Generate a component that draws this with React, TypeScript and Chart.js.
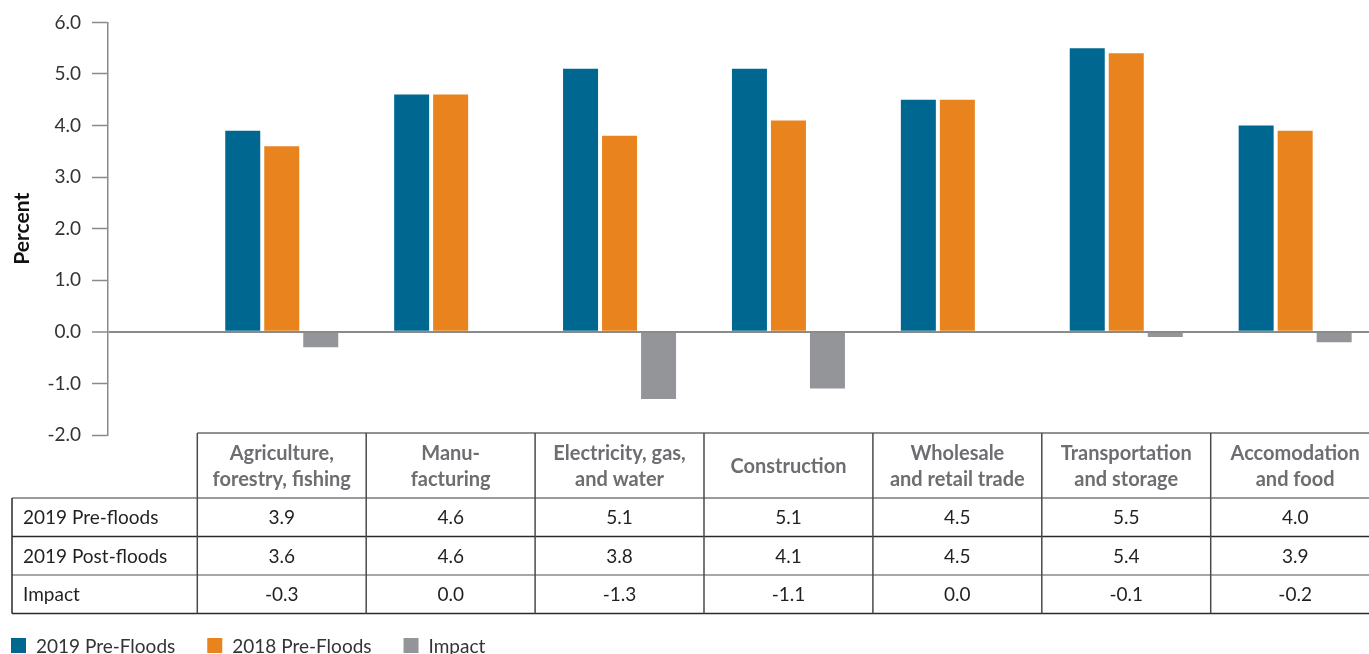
import { useEffect, useRef } from 'react';
import { Chart, registerables } from 'chart.js';

Chart.register(...registerables);

// Sectors (header lines of the data table)
const SECTORS: string[][] = [
  ['Agriculture,', 'forestry, fishing'],
  ['Manu-', 'facturing'],
  ['Electricity, gas,', 'and water'],
  ['Construction'],
  ['Wholesale', 'and retail trade'],
  ['Transportation', 'and storage'],
  ['Accomodation', 'and food'],
];

// Growth rates, percent
const PRE_FLOODS_2019 = [3.9, 4.6, 5.1, 5.1, 4.5, 5.5, 4.0];
const POST_FLOODS_2019 = [3.6, 4.6, 3.8, 4.1, 4.5, 5.4, 3.9];
const IMPACT = [-0.3, 0.0, -1.3, -1.1, 0.0, -0.1, -0.2];

const ROW_LABELS = ['2019 Pre-floods', '2019 Post-floods', 'Impact'];
const LEGEND_LABELS = ['2019 Pre-Floods', '2018 Pre-Floods', 'Impact'];

const Y_MIN = -2;
const Y_MAX = 6;
const Y_STEP = 1;

const COLORS = ['#006890', '#E8831E', '#939598'];
const FONT = 'Lato';

const fmt = (v: number) => v.toFixed(1);

const tablePlugin = {
  id: 'dataTable',
  afterDraw(chart: any) {
    const { ctx, chartArea } = chart;
    const xs = chart.scales.x;
    const edge = (i: number) => xs.getPixelForValue(i - 0.5);
    const leftX = 12;
    const top = chartArea.bottom - 2;
    const headBottom = top + 65;
    const rowH = 38.5;
    const rows = [PRE_FLOODS_2019, POST_FLOODS_2019, IMPACT];
    const bottom = headBottom + rowH * rows.length;
    const n = SECTORS.length;
    const firstCol = edge(0);
    const lastCol = edge(n);

    ctx.save();
    const hline = (x1: number, x2: number, y: number, color: string, w: number) => {
      ctx.beginPath();
      ctx.strokeStyle = color;
      ctx.lineWidth = w;
      ctx.moveTo(x1, y);
      ctx.lineTo(x2, y);
      ctx.stroke();
    };
    const vline = (x: number, y1: number, y2: number, color: string, w: number) => {
      ctx.beginPath();
      ctx.strokeStyle = color;
      ctx.lineWidth = w;
      ctx.moveTo(x, y1);
      ctx.lineTo(x, y2);
      ctx.stroke();
    };

    // grid
    hline(firstCol, lastCol, top, '#6b6b6b', 1.5);
    hline(leftX, lastCol, headBottom, '#7a7a7a', 1.5);
    hline(leftX, lastCol, headBottom + rowH, '#2a2a2a', 1.5);
    hline(leftX, lastCol, headBottom + rowH * 2, '#8a8a8a', 1.5);
    hline(leftX, lastCol, bottom, '#2a2a2a', 1.5);
    vline(leftX, headBottom, bottom, '#2a2a2a', 1.5);
    for (let i = 0; i <= n; i++) {
      vline(edge(i), top, bottom, '#4a4a4a', 1.5);
    }

    // header
    ctx.textAlign = 'center';
    ctx.textBaseline = 'middle';
    ctx.fillStyle = '#6d6e71';
    ctx.font = `bold 20px ${FONT}`;
    const headMid = (top + headBottom) / 2;
    const lineGap = 26;
    SECTORS.forEach((lines, i) => {
      const cx = xs.getPixelForValue(i);
      const y0 = headMid - ((lines.length - 1) * lineGap) / 2;
      lines.forEach((t, k) => ctx.fillText(t, cx, y0 + k * lineGap + 1));
    });

    // body
    ctx.font = `19px ${FONT}`;
    ctx.fillStyle = '#231f20';
    rows.forEach((vals, r) => {
      const cy = headBottom + rowH * r + rowH / 2 + 1;
      ctx.textAlign = 'left';
      ctx.fillText(ROW_LABELS[r], leftX + 11, cy);
      ctx.textAlign = 'center';
      vals.forEach((v, i) => ctx.fillText(fmt(v), xs.getPixelForValue(i), cy));
    });

    // legend
    ctx.font = `19px ${FONT}`;
    ctx.textAlign = 'left';
    let lx = 11;
    const ly = 638;
    chart.data.datasets.forEach((ds: any) => {
      ctx.fillStyle = ds.backgroundColor;
      ctx.fillRect(lx, ly, 15, 15);
      ctx.fillStyle = '#333333';
      ctx.fillText(ds.label, lx + 25, ly + 9);
      lx += 25 + ctx.measureText(ds.label).width + 32;
    });
    ctx.restore();
  },
};

export default function App() {
  const ref = useRef<HTMLCanvasElement | null>(null);

  useEffect(() => {
    if (!ref.current) return;
    const series = [PRE_FLOODS_2019, POST_FLOODS_2019, IMPACT];
    const chart = new Chart(ref.current, {
      type: 'bar',
      data: {
        datasets: series.map((vals, k) => ({
          label: LEGEND_LABELS[k],
          data: vals.map((y, x) => ({ x, y })),
          backgroundColor: COLORS[k],
          borderWidth: 0,
          categoryPercentage: 0.6927,
          barPercentage: 0.8974,
        })),
      },
      options: {
        responsive: false,
        animation: false,
        layout: { padding: { left: 0, top: 21, right: 20.4, bottom: 0 } },
        plugins: {
          legend: { display: false },
          tooltip: { enabled: false },
        },
        scales: {
          x: {
            type: 'linear',
            offset: false,
            min: -1.0287,
            max: SECTORS.length - 0.5,
            ticks: { display: false, stepSize: 1, includeBounds: false },
            grid: { display: false, offset: false },
            border: { display: false },
            afterFit: (s: any) => {
              s.height = 219;
            },
          },
          y: {
            min: Y_MIN,
            max: Y_MAX,
            ticks: {
              stepSize: Y_STEP,
              callback: (v: any) => fmt(Number(v)),
              font: { family: FONT, size: 19 },
              color: '#333333',
              padding: 11,
            },
            grid: {
              color: (c: any) => (c.tick && c.tick.value === 0 ? '#8a8a8a' : 'rgba(0,0,0,0)'),
              lineWidth: (c: any) => (c.tick && c.tick.value === 0 ? 2 : 1),
              tickColor: '#8a8a8a',
              tickLength: 16,
              tickWidth: 1.5,
            },
            border: { display: true, color: '#8a8a8a', width: 1.5 },
            title: {
              display: true,
              text: 'Percent',
              color: '#111111',
              font: { family: FONT, size: 21, weight: 'bold' },
              padding: { top: 10, bottom: 0 },
            },
            afterFit: (s: any) => {
              s.width = 108;
            },
          },
        },
      } as any,
      plugins: [tablePlugin],
    });
    return () => chart.destroy();
  }, []);

  return (
    <div
      style={{
        position: 'absolute',
        left: 0,
        top: 0,
        width: 1369,
        height: 654,
        overflow: 'hidden',
        background: '#ffffff',
      }}
    >
      <canvas ref={ref} width={1400} height={654} style={{ display: 'block' }} />
    </div>
  );
}
